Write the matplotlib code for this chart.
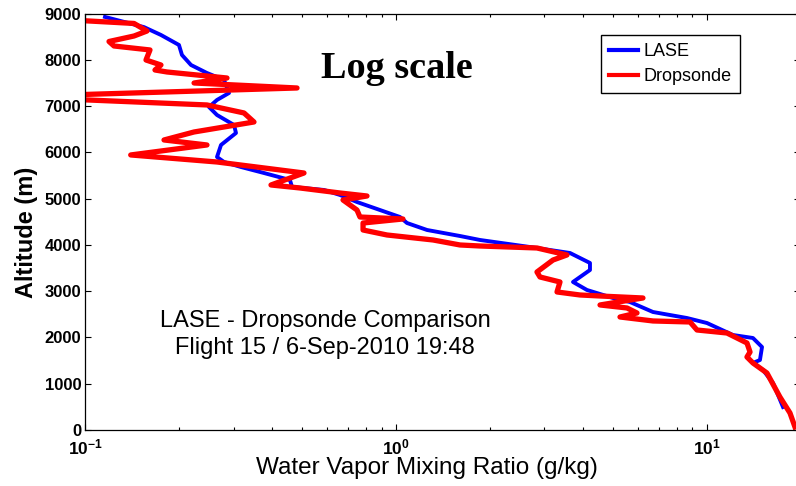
import matplotlib
matplotlib.use("Agg")
import matplotlib.pyplot as plt
from matplotlib.ticker import FixedLocator, LogLocator, NullFormatter

# LASE lidar profile: mixing ratio (g/kg) vs altitude (m)
lase_q = [0.1157, 0.1545, 0.1752, 0.2002, 0.2047, 0.2189, 0.2464, 0.2796, 0.2901,
          0.2654, 0.2501, 0.2654, 0.3011, 0.3055, 0.2734, 0.2654, 0.2796, 0.3170,
          0.3759, 0.4558, 0.4627, 0.5866, 0.6605, 0.7489, 1.030, 1.085, 1.259,
          1.607, 1.864, 2.699, 3.631, 4.211, 4.211, 3.713, 4.118, 4.994, 5.664,
          6.717, 8.642, 10.02, 12.15, 14.09, 15.07, 14.84, 14.09, 15.18, 16.35, 17.61]
lase_alt = [8930, 8710, 8540, 8324, 8108, 7891, 7718, 7567, 7286,
            7135, 6983, 6810, 6594, 6421, 6162, 5902, 5794, 5686,
            5556, 5405, 5254, 5189, 5081, 4929, 4605, 4475, 4324,
            4194, 4108, 3956, 3827, 3611, 3459, 3200, 3027, 2854, 2767,
            2551, 2421, 2313, 2054, 1989, 1794, 1513, 1449, 1297, 1016, 497]

# Dropsonde profile
drop_q = [0.098, 0.1435, 0.158, 0.1435, 0.1192, 0.1237, 0.1615, 0.1568, 0.1752,
          0.1676, 0.1832, 0.2858, 0.2239, 0.4802, 0.085, 0.090, 0.2464, 0.3242,
          0.3491, 0.2796, 0.2239, 0.1792, 0.2464, 0.2078, 0.140, 0.2654, 0.5057,
          0.396, 0.4909, 0.6605, 0.8067, 0.6752, 0.7489, 0.7657, 1.053, 0.7834,
          0.7834, 0.9355, 1.316, 1.607, 1.864, 2.843, 3.551, 3.202, 2.843, 2.907,
          3.372, 3.298, 3.909, 4.536, 6.237, 4.536, 5.54, 5.966, 5.26, 6.717,
          8.838, 9.307, 11.62, 13.48, 13.79, 13.48, 14.09, 15.63, 17.21, 18.54, 19.24]
drop_alt = [8850, 8789, 8626, 8518, 8399, 8302, 8216, 7999, 7891,
            7783, 7740, 7610, 7502, 7394, 7240, 7150, 7027, 6854,
            6659, 6551, 6443, 6270, 6162, 6097, 5946, 5794, 5556,
            5297, 5232, 5124, 5059, 4973, 4756, 4605, 4562, 4475,
            4324, 4216, 4108, 4000, 3978, 3935, 3784, 3675, 3416, 3308,
            3200, 2984, 2919, 2897, 2854, 2703, 2638, 2530, 2443, 2357,
            2335, 2162, 2097, 1881, 1686, 1578, 1449, 1232, 713, 368, 65]

y_ticks = [0, 1000, 2000, 3000, 4000, 5000, 6000, 7000, 8000, 9000]
x_ticks = [0.1, 1, 10]
x_tick_labels = [r"$\mathbf{10^{-1}}$", r"$\mathbf{10^{0}}$", r"$\mathbf{10^{1}}$"]

plt.rcParams["font.family"] = ["Liberation Sans", "DejaVu Sans"]
plt.rcParams["mathtext.fontset"] = "custom"
plt.rcParams["mathtext.rm"] = "Liberation Sans"
plt.rcParams["mathtext.bf"] = "Liberation Sans:bold"

W, H = 796, 486
fig = plt.figure(figsize=(W / 100, H / 100), dpi=100)
left, right, top, bottom = 85.3, 800.2, 13.7, 430.0
ax = fig.add_axes([left / W, 1 - bottom / H, (right - left) / W, (bottom - top) / H])

ax.plot(lase_q, lase_alt, color="#0000ff", lw=2.8, label="LASE", solid_joinstyle="round")
ax.plot(drop_q, drop_alt, color="#ff0000", lw=3.8, label="Dropsonde", solid_joinstyle="round")

ax.set_xscale("log")
ax.set_xlim(0.1, 20)
ax.set_ylim(0, 9000)

ax.xaxis.set_major_locator(FixedLocator(x_ticks))
ax.set_xticklabels(x_tick_labels, fontsize=12.5)
ax.xaxis.set_minor_locator(LogLocator(base=10, subs=range(2, 10)))
ax.xaxis.set_minor_formatter(NullFormatter())
ax.set_yticks(y_ticks)
ax.set_yticklabels([str(v) for v in y_ticks], fontsize=12, fontweight="bold")

ax.tick_params(which="both", direction="in", top=True, right=True, width=0.8)
ax.tick_params(which="major", length=4.5, pad=3)
ax.tick_params(axis="x", which="major", pad=5.5)
ax.tick_params(which="minor", length=2.2)
for s in ax.spines.values():
    s.set_linewidth(0.9)

ax.set_xlabel("Water Vapor Mixing Ratio (g/kg)", fontsize=17.5)
ax.xaxis.set_label_coords((427 - left) / (right - left), -(468 - bottom) / (bottom - top))
ax.xaxis.label.set_va("center")
ax.set_ylabel("Altitude (m)", fontsize=17, fontweight="bold")
ax.yaxis.set_label_coords(-(left - 27) / (right - left), (bottom - 232) / (bottom - top))
ax.yaxis.label.set_va("center")

fig.text(397 / W, 1 - 68 / H, "Log scale", family=["Liberation Serif", "DejaVu Serif"],
         fontsize=27.5, fontweight="bold", ha="center", va="center")
fig.text(325 / W, 1 - 321 / H, "LASE - Dropsonde Comparison", fontsize=17,
         ha="center", va="center")
fig.text(325 / W, 1 - 348 / H, "Flight 15 / 6-Sep-2010 19:48", fontsize=17,
         ha="center", va="center")

leg = ax.legend(loc="upper left", bbox_to_anchor=(601 / W, 1 - 35 / H),
                bbox_transform=fig.transFigure, borderaxespad=0, fontsize=13,
                fancybox=False, framealpha=1, edgecolor="black", handlelength=1.6,
                handletextpad=0.3, borderpad=0.45, labelspacing=0.45)
leg.get_frame().set_linewidth(1.0)
for line in leg.get_lines():
    line.set_linewidth(3.0)

fig.savefig("out.png", dpi=100)
